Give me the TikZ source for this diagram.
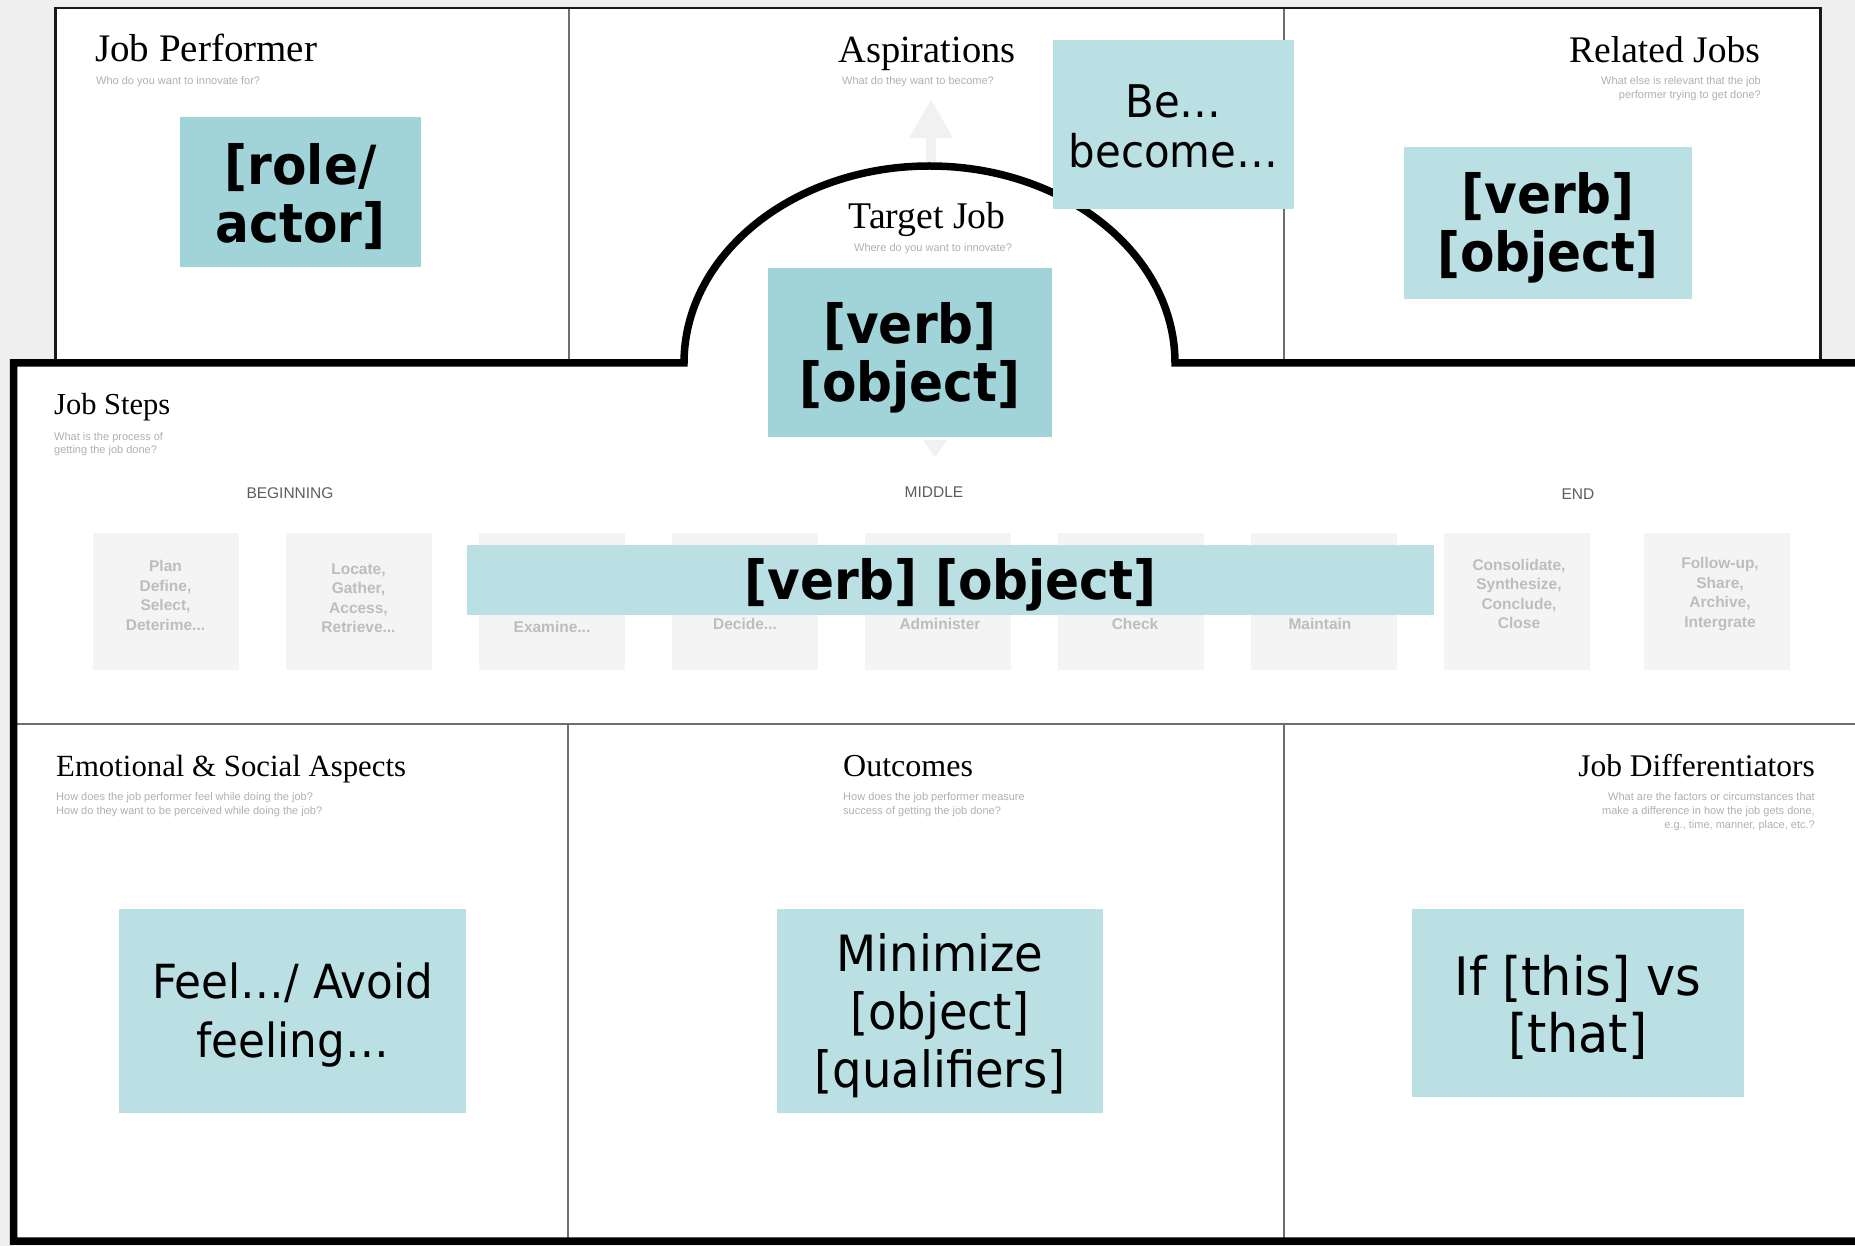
\documentclass[tikz,border=0pt]{standalone}
\usepackage{fontspec}
\setmainfont{Liberation Serif}
\newfontfamily\boxfont[FakeStretch=0.93]{DejaVu Sans}
\newfontfamily\uifont{Liberation Sans}
\definecolor{pagegray}{HTML}{EFEFEF}
\definecolor{tealdark}{HTML}{A0D4D8}
\definecolor{teallight}{HTML}{BAE0E3}
\definecolor{cardgray}{HTML}{F4F4F4}
\definecolor{cardtext}{HTML}{BDBDBD}
\definecolor{hinttext}{HTML}{B0B0B0}
\definecolor{phasetext}{HTML}{5E5E5E}
\definecolor{ruleline}{HTML}{6E6E6E}
\definecolor{faintarrow}{HTML}{F1F1F1}
\begin{document}
\begin{tikzpicture}[x=1pt,y=-1pt,
  paneltitle/.style={inner sep=0, font=\fontsize{#1}{#1}\selectfont},
  hint/.style={inner sep=0, text=hinttext, font=\uifont\fontsize{11}{14}\selectfont},
  phase/.style={inner sep=0, text=phasetext, font=\uifont\fontsize{15.5}{18}\selectfont},
  stepcard/.style={fill=cardgray, minimum width=146, minimum height=137, inner sep=0},
  steptext/.style={inner sep=0, text=cardtext, align=center, font=\uifont\bfseries\fontsize{15.5}{19.5}\selectfont},
  note/.style={inner sep=0},
  darknote/.style={note, fill=tealdark},
  lightnote/.style={note, fill=teallight},
  notetext/.style={inner sep=0, align=center},
  boldtext/.style={notetext, font=\boxfont\bfseries\fontsize{54}{58}\selectfont},
  plaintext/.style 2 args={notetext, font=\boxfont\fontsize{#1}{#2}\selectfont},
]
\useasboundingbox (0,0) rectangle (1855,1246);
\clip (0,0) rectangle (1855,1246);

% page background
\fill[pagegray] (0,0) rectangle (1855,1246);

% upper band: Job Performer / Aspirations / Related Jobs
\fill[white] (55.5,8) rectangle (1820.5,363);
\draw[ruleline, line width=1.4] (569,8) -- (569,362);
\draw[ruleline, line width=1.4] (1284,8) -- (1284,362);
\draw[black!90, line width=2.5] (55.5,363) -- (55.5,8) -- (1820.5,8) -- (1820.5,363);

% faint arrow from the target job up to the aspirations
\fill[faintarrow] (931,100) -- (953,138) -- (936,138) -- (936,168) -- (926,168)
  -- (926,138) -- (909,138) -- cycle;

% lower band with the arch of the target job
\fill[white] (1860,363) -- (1175,363)
  arc[start angle=0, end angle=-180, x radius=245.5, y radius=197]
  -- (13.5,363) -- (13.5,1241) -- (1860,1241) -- cycle;
\draw[ruleline, line width=1.4] (17,724) -- (1855,724);
\draw[ruleline, line width=1.4] (568,724) -- (568,1238);
\draw[ruleline, line width=1.4] (1284,724) -- (1284,1238);
\draw[line width=7.5, line join=miter] (1860,363) -- (1175,363)
  arc[start angle=0, end angle=-180, x radius=245.5, y radius=197]
  -- (13.5,363) -- (13.5,1241) -- (1860,1241);

% faint arrow from the target job down to the job steps
\fill[faintarrow] (923,440) -- (947,440) -- (935,457) -- cycle;

% panel titles
\node[paneltitle=39, anchor=base west] (tJP) at (95,62) {Job Performer};
\node[paneltitle=38.5, anchor=base] (tAS) at (927,63) {Aspirations};
\node[paneltitle=37.5, anchor=base east] (tRJ) at (1760,63) {Related Jobs};
\node[paneltitle=37.7, anchor=base] (tTJ) at (927,229) {Target Job};
\node[paneltitle=30.5, anchor=base west] (tJS) at (54,414) {Job Steps};
\node[paneltitle=30.8, anchor=base west] (tES) at (56,776) {Emotional \& Social Aspects};
\node[paneltitle=32, anchor=base west] (tOC) at (843,776) {Outcomes};
\node[paneltitle=31.5, anchor=base east] (tJD) at (1815,776) {Job Differentiators};

% panel prompts
\node[hint, anchor=base west] (hJP) at (96,85) {Who do you want to innovate for?};
\node[hint, anchor=base] (hAS) at (918,85) {What do they want to become?};
\node[hint, anchor=north east, align=right] (hRJ) at (1761,76.7)
  {What else is relevant that the job\\performer trying to get done?};
\node[hint, anchor=base] (hTJ) at (933,252) {Where do you want to innovate?};
\node[hint, anchor=north west, align=left, font=\uifont\fontsize{11}{13}\selectfont] (hJS) at (54,432.7)
  {What is the process of\\getting the job done?};
\node[hint, anchor=north west, align=left] (hES) at (56,792.7)
  {How does the job performer feel while doing the job?\\How do they want to be perceived while doing the job?};
\node[hint, anchor=north west, align=left] (hOC) at (843,792.7)
  {How does the job performer measure\\success of getting the job done?};
\node[hint, anchor=north east, align=right] (hJD) at (1815,792.7)
  {What are the factors or circumstances that\\make a difference in how the job gets done,\\e.g., time, manner, place, etc.?};

% phases of the job
\node[phase] (pB) at (290,493) {BEGINNING};
\node[phase] (pM) at (934,492) {MIDDLE};
\node[phase] (pE) at (1578,494) {END};

% step cards
\foreach \n/\cx in {1/165.5,2/358.5,3/551.5,4/744.5,5/937.5,6/1130.5,7/1324,8/1517,9/1717}
  \node[stepcard] (card\n) at (\cx,601.5) {};
\node[steptext] (s1) at (165.5,595.5) {Plan\\Define,\\Select,\\Deterime...};
\node[steptext] (s2) at (358.5,598) {Locate,\\Gather,\\Access,\\Retrieve...};
\node[steptext] (s3) at (552,627) {Examine...};
\node[steptext] (s4) at (745,624) {Decide...};
\node[steptext] (s5) at (940,624) {Administer};
\node[steptext] (s6) at (1135,624) {Check};
\node[steptext] (s7) at (1320,624) {Maintain};
\node[steptext] (s8) at (1519,594) {Consolidate,\\Synthesize,\\Conclude,\\Close};
\node[steptext] (s9) at (1720,594) {Follow-up,\\Share,\\Archive,\\Intergrate};

% filled-in notes: the card, then its words
\node[darknote, minimum width=241, minimum height=150] (nJP) at (300.5,192) {};
\node[lightnote, minimum width=241, minimum height=169] (nAS) at (1173.5,124.5) {};
\node[darknote, minimum width=284, minimum height=169] (nTJ) at (910,352.5) {};
\node[lightnote, minimum width=288, minimum height=152] (nRJ) at (1548,223) {};
\node[lightnote, minimum width=967, minimum height=70] (nJS) at (950.5,580) {};
\node[lightnote, minimum width=347, minimum height=204] (nES) at (292.5,1011) {};
\node[lightnote, minimum width=326, minimum height=204] (nOC) at (940,1011) {};
\node[lightnote, minimum width=332, minimum height=188] (nJD) at (1578,1003) {};

\node[boldtext] (xJP) at ([yshift=-5pt]nJP.center) {[role/\\actor]};
\node[plaintext={45}{50}] (xAS) at ([yshift=-1.5pt]nAS.center) {Be…\\become…};
\node[boldtext] (xTJ) at ([yshift=-5.5pt]nTJ.center) {[verb]\\{}[object]};
\node[boldtext] (xRJ) at ([yshift=-5pt]nRJ.center) {[verb]\\{}[object]};
\node[boldtext] (xJS) at ([yshift=-5pt]nJS.center) {[verb] [object]};
\node[plaintext={47}{59}] (xES) at ([yshift=-4pt]nES.center) {Feel…/ Avoid\\feeling…};
\node[plaintext={50}{58}] (xOC) at ([yshift=-5pt]nOC.center) {Minimize\\{}[object]\\{}[qualifiers]};
\node[plaintext={53}{57}] (xJD) at ([yshift=-4.5pt]nJD.center) {If [this] vs\\{}[that]};
\end{tikzpicture}
\end{document}
